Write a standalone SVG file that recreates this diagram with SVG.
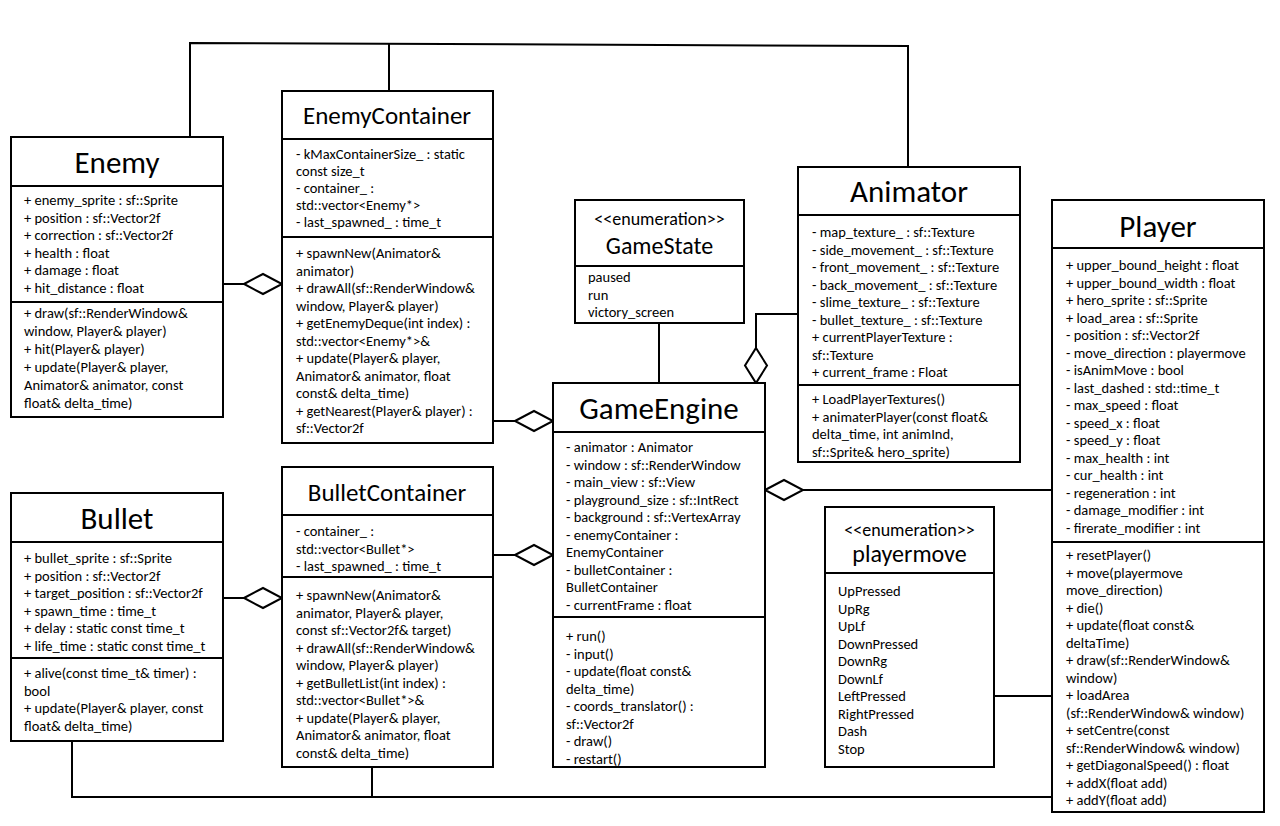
<svg xmlns="http://www.w3.org/2000/svg" width="1280" height="826" viewBox="0 0 1280 826">
<style>
.box{fill:#fff;stroke:#000;stroke-width:2}
.sep{stroke:#000;stroke-width:2}
.t{font-family:Carlito,Lato,"Liberation Sans",sans-serif;font-size:14.5px;fill:#000}
.ti{font-family:Carlito,Lato,"Liberation Sans",sans-serif;font-size:31px;fill:#000;text-anchor:middle}
.tm{font-family:Carlito,Lato,"Liberation Sans",sans-serif;font-size:25px;fill:#000;text-anchor:middle}
.ts{font-family:Carlito,Lato,"Liberation Sans",sans-serif;font-size:24px;fill:#000;text-anchor:middle}
.st{font-family:Carlito,Lato,"Liberation Sans",sans-serif;font-size:18px;fill:#000;text-anchor:middle}
.c{fill:none;stroke:#000;stroke-width:2}
.d{fill:#fff;stroke:#000;stroke-width:2}
</style>
<rect width="1280" height="826" fill="#fff"/>
<g id="connectors">
<polyline class="c" points="190,138 190,43 908,46 908,167"/>
<line class="c" x1="389" y1="43" x2="389" y2="91"/>
<line class="c" x1="223" y1="284" x2="244" y2="284"/>
<polygon class="d" points="244,284 263,274 282,284 263,294"/>
<line class="c" x1="493" y1="421" x2="515" y2="421"/>
<polygon class="d" points="515,421 534,411 553,421 534,431"/>
<line class="c" x1="493" y1="555" x2="515" y2="555"/>
<polygon class="d" points="515,555 534,545 553,555 534,565"/>
<line class="c" x1="223" y1="598" x2="244" y2="598"/>
<polygon class="d" points="244,598 263,588 282,598 263,608"/>
<polyline class="c" points="798,314 756,314 756,348"/>
<polygon class="d" points="756,348 767,365.5 756,383 745,365.5"/>
<line class="c" x1="659" y1="323" x2="659" y2="383"/>
<line class="c" x1="803" y1="490" x2="1052" y2="490"/>
<polygon class="d" points="765,490 784,480 803,490 784,500"/>
<line class="c" x1="994" y1="696" x2="1052" y2="696"/>
<polyline class="c" points="72,741 72,797 1052,797"/>
<line class="c" x1="372" y1="767" x2="372" y2="797"/>
</g>
<g id="Enemy">
<rect class="box" x="11" y="137" width="212" height="280"/>
<line class="sep" x1="11" y1="186" x2="223" y2="186"/>
<line class="sep" x1="11" y1="302" x2="223" y2="302"/>
<text class="ti" x="117" y="173">Enemy</text>
<text class="t" x="24" y="205">+ enemy_sprite : sf::Sprite</text>
<text class="t" x="24" y="222.5">+ position : sf::Vector2f</text>
<text class="t" x="24" y="240">+ correction : sf::Vector2f</text>
<text class="t" x="24" y="257.5">+ health : float</text>
<text class="t" x="24" y="275">+ damage : float</text>
<text class="t" x="24" y="292.5">+ hit_distance : float</text>
<text class="t" x="24" y="318">+ draw(sf::RenderWindow&amp;</text>
<text class="t" x="24" y="336">window, Player&amp; player)</text>
<text class="t" x="24" y="354">+ hit(Player&amp; player)</text>
<text class="t" x="24" y="372">+ update(Player&amp; player,</text>
<text class="t" x="24" y="390">Animator&amp; animator, const</text>
<text class="t" x="24" y="408">float&amp; delta_time)</text>
</g>
<g id="EnemyContainer">
<rect class="box" x="282" y="91" width="211" height="352"/>
<line class="sep" x1="282" y1="139" x2="493" y2="139"/>
<line class="sep" x1="282" y1="237" x2="493" y2="237"/>
<text class="tm" x="387" y="124">EnemyContainer</text>
<text class="t" x="296" y="159">- kMaxContainerSize_ : static</text>
<text class="t" x="296" y="176">const size_t</text>
<text class="t" x="296" y="193">- container_ :</text>
<text class="t" x="296" y="210">std::vector&lt;Enemy*&gt;</text>
<text class="t" x="296" y="227">- last_spawned_ : time_t</text>
<text class="t" x="296" y="258">+ spawnNew(Animator&amp;</text>
<text class="t" x="296" y="275.5">animator)</text>
<text class="t" x="296" y="293">+ drawAll(sf::RenderWindow&amp;</text>
<text class="t" x="296" y="310.5">window, Player&amp; player)</text>
<text class="t" x="296" y="328">+ getEnemyDeque(int index) :</text>
<text class="t" x="296" y="345.5">std::vector&lt;Enemy*&gt;&amp;</text>
<text class="t" x="296" y="363">+ update(Player&amp; player,</text>
<text class="t" x="296" y="380.5">Animator&amp; animator, float</text>
<text class="t" x="296" y="398">const&amp; delta_time)</text>
<text class="t" x="296" y="415.5">+ getNearest(Player&amp; player) :</text>
<text class="t" x="296" y="433">sf::Vector2f</text>
</g>
<g id="GameState">
<rect class="box" x="575" y="200" width="169" height="123"/>
<line class="sep" x1="575" y1="266" x2="744" y2="266"/>
<text class="st" x="659.5" y="225">&lt;&lt;enumeration&gt;&gt;</text>
<text class="ts" x="659.5" y="254">GameState</text>
<text class="t" x="588" y="282">paused</text>
<text class="t" x="588" y="299.5">run</text>
<text class="t" x="588" y="317">victory_screen</text>
</g>
<g id="Animator">
<rect class="box" x="798" y="167" width="222" height="295"/>
<line class="sep" x1="798" y1="215" x2="1020" y2="215"/>
<line class="sep" x1="798" y1="385" x2="1020" y2="385"/>
<text class="ti" x="909" y="202">Animator</text>
<text class="t" x="812" y="237">- map_texture_ : sf::Texture</text>
<text class="t" x="812" y="254.5">- side_movement_ : sf::Texture</text>
<text class="t" x="812" y="272">- front_movement_ : sf::Texture</text>
<text class="t" x="812" y="289.5">- back_movement_ : sf::Texture</text>
<text class="t" x="812" y="307">- slime_texture_ : sf::Texture</text>
<text class="t" x="812" y="324.5">- bullet_texture_ : sf::Texture</text>
<text class="t" x="812" y="342">+ currentPlayerTexture :</text>
<text class="t" x="812" y="359.5">sf::Texture</text>
<text class="t" x="812" y="377">+ current_frame : Float</text>
<text class="t" x="812" y="404">+ LoadPlayerTextures()</text>
<text class="t" x="812" y="421.5">+ animaterPlayer(const float&amp;</text>
<text class="t" x="812" y="439">delta_time, int animInd,</text>
<text class="t" x="812" y="456.5">sf::Sprite&amp; hero_sprite)</text>
</g>
<g id="GameEngine">
<rect class="box" x="553" y="383" width="212" height="384"/>
<line class="sep" x1="553" y1="432" x2="765" y2="432"/>
<line class="sep" x1="553" y1="617" x2="765" y2="617"/>
<text class="ti" x="659" y="419">GameEngine</text>
<text class="t" x="566" y="452">- animator : Animator</text>
<text class="t" x="566" y="469.5">- window : sf::RenderWindow</text>
<text class="t" x="566" y="487">- main_view : sf::View</text>
<text class="t" x="566" y="504.5">- playground_size : sf::IntRect</text>
<text class="t" x="566" y="522">- background : sf::VertexArray</text>
<text class="t" x="566" y="539.5">- enemyContainer :</text>
<text class="t" x="566" y="557">EnemyContainer</text>
<text class="t" x="566" y="574.5">- bulletContainer :</text>
<text class="t" x="566" y="592">BulletContainer</text>
<text class="t" x="566" y="609.5">- currentFrame : float</text>
<text class="t" x="566" y="641">+ run()</text>
<text class="t" x="566" y="658.5">- input()</text>
<text class="t" x="566" y="676">- update(float const&amp;</text>
<text class="t" x="566" y="693.5">delta_time)</text>
<text class="t" x="566" y="711">- coords_translator() :</text>
<text class="t" x="566" y="728.5">sf::Vector2f</text>
<text class="t" x="566" y="746">- draw()</text>
<text class="t" x="566" y="763.5">- restart()</text>
</g>
<g id="Bullet">
<rect class="box" x="11" y="493" width="212" height="248"/>
<line class="sep" x1="11" y1="542" x2="223" y2="542"/>
<line class="sep" x1="11" y1="658" x2="223" y2="658"/>
<text class="ti" x="117" y="529">Bullet</text>
<text class="t" x="24" y="563">+ bullet_sprite : sf::Sprite</text>
<text class="t" x="24" y="580.5">+ position : sf::Vector2f</text>
<text class="t" x="24" y="598">+ target_position : sf::Vector2f</text>
<text class="t" x="24" y="615.5">+ spawn_time : time_t</text>
<text class="t" x="24" y="633">+ delay : static const time_t</text>
<text class="t" x="24" y="650.5">+ life_time : static const time_t</text>
<text class="t" x="24" y="678">+ alive(const time_t&amp; timer) :</text>
<text class="t" x="24" y="695.5">bool</text>
<text class="t" x="24" y="713">+ update(Player&amp; player, const</text>
<text class="t" x="24" y="730.5">float&amp; delta_time)</text>
</g>
<g id="BulletContainer">
<rect class="box" x="282" y="467" width="211" height="300"/>
<line class="sep" x1="282" y1="515" x2="493" y2="515"/>
<line class="sep" x1="282" y1="577" x2="493" y2="577"/>
<text class="tm" x="387" y="501">BulletContainer</text>
<text class="t" x="296" y="536">- container_ :</text>
<text class="t" x="296" y="553.5">std::vector&lt;Bullet*&gt;</text>
<text class="t" x="296" y="571">- last_spawned_ : time_t</text>
<text class="t" x="296" y="600">+ spawnNew(Animator&amp;</text>
<text class="t" x="296" y="617.5">animator, Player&amp; player,</text>
<text class="t" x="296" y="635">const sf::Vector2f&amp; target)</text>
<text class="t" x="296" y="652.5">+ drawAll(sf::RenderWindow&amp;</text>
<text class="t" x="296" y="670">window, Player&amp; player)</text>
<text class="t" x="296" y="687.5">+ getBulletList(int index) :</text>
<text class="t" x="296" y="705">std::vector&lt;Bullet*&gt;&amp;</text>
<text class="t" x="296" y="722.5">+ update(Player&amp; player,</text>
<text class="t" x="296" y="740">Animator&amp; animator, float</text>
<text class="t" x="296" y="757.5">const&amp; delta_time)</text>
</g>
<g id="playermove">
<rect class="box" x="825" y="507" width="169" height="260"/>
<line class="sep" x1="825" y1="573" x2="994" y2="573"/>
<text class="st" x="909.5" y="536">&lt;&lt;enumeration&gt;&gt;</text>
<text class="ts" x="909.5" y="562">playermove</text>
<text class="t" x="838" y="596">UpPressed</text>
<text class="t" x="838" y="613.5">UpRg</text>
<text class="t" x="838" y="631">UpLf</text>
<text class="t" x="838" y="648.5">DownPressed</text>
<text class="t" x="838" y="666">DownRg</text>
<text class="t" x="838" y="683.5">DownLf</text>
<text class="t" x="838" y="701">LeftPressed</text>
<text class="t" x="838" y="718.5">RightPressed</text>
<text class="t" x="838" y="736">Dash</text>
<text class="t" x="838" y="753.5">Stop</text>
</g>
<g id="Player">
<rect class="box" x="1052" y="200" width="212" height="612"/>
<line class="sep" x1="1052" y1="248" x2="1264" y2="248"/>
<line class="sep" x1="1052" y1="542" x2="1264" y2="542"/>
<text class="ti" x="1158" y="237">Player</text>
<text class="t" x="1066" y="270">+ upper_bound_height : float</text>
<text class="t" x="1066" y="287.5">+ upper_bound_width : float</text>
<text class="t" x="1066" y="305">+ hero_sprite : sf::Sprite</text>
<text class="t" x="1066" y="322.5">+ load_area : sf::Sprite</text>
<text class="t" x="1066" y="340">- position : sf::Vector2f</text>
<text class="t" x="1066" y="357.5">- move_direction : playermove</text>
<text class="t" x="1066" y="375">- isAnimMove : bool</text>
<text class="t" x="1066" y="392.5">- last_dashed : std::time_t</text>
<text class="t" x="1066" y="410">- max_speed : float</text>
<text class="t" x="1066" y="427.5">- speed_x : float</text>
<text class="t" x="1066" y="445">- speed_y : float</text>
<text class="t" x="1066" y="462.5">- max_health : int</text>
<text class="t" x="1066" y="480">- cur_health : int</text>
<text class="t" x="1066" y="497.5">- regeneration : int</text>
<text class="t" x="1066" y="515">- damage_modifier : int</text>
<text class="t" x="1066" y="532.5">- firerate_modifier : int</text>
<text class="t" x="1066" y="560">+ resetPlayer()</text>
<text class="t" x="1066" y="577.5">+ move(playermove</text>
<text class="t" x="1066" y="595">move_direction)</text>
<text class="t" x="1066" y="612.5">+ die()</text>
<text class="t" x="1066" y="630">+ update(float const&amp;</text>
<text class="t" x="1066" y="647.5">deltaTime)</text>
<text class="t" x="1066" y="665">+ draw(sf::RenderWindow&amp;</text>
<text class="t" x="1066" y="682.5">window)</text>
<text class="t" x="1066" y="700">+ loadArea</text>
<text class="t" x="1066" y="717.5">(sf::RenderWindow&amp; window)</text>
<text class="t" x="1066" y="735">+ setCentre(const</text>
<text class="t" x="1066" y="752.5">sf::RenderWindow&amp; window)</text>
<text class="t" x="1066" y="770">+ getDiagonalSpeed() : float</text>
<text class="t" x="1066" y="787.5">+ addX(float add)</text>
<text class="t" x="1066" y="805">+ addY(float add)</text>
</g>
</svg>
